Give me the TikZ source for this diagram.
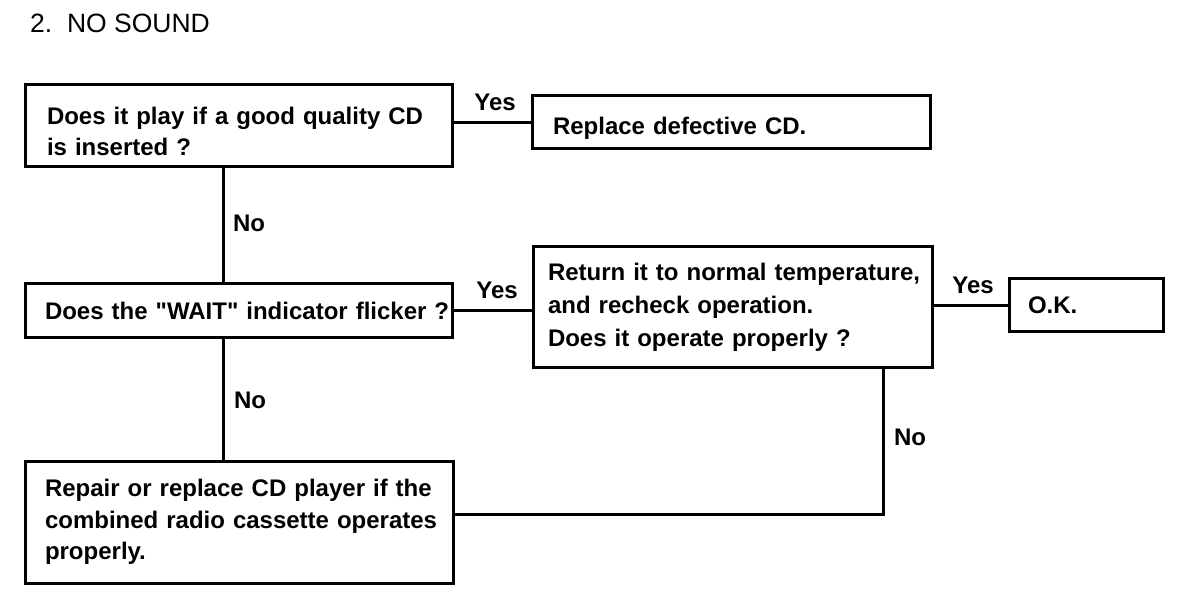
\documentclass[tikz,border=0pt]{standalone}
\usepackage{fontspec}
\setmainfont{Liberation Sans}[Ligatures=TeXOff]
\begin{document}
\begin{tikzpicture}[x=1pt,y=-1pt,
  box/.style={draw, line width=3pt, inner ysep=0pt, align=left,
    font=\bfseries\fontsize{24}{31.5}\selectfont},
  lower/.style={execute at begin node={\rule{0pt}{28pt}}},
  conn/.style={line width=3pt},
  lbl/.style={font=\bfseries\fontsize{24}{30}\selectfont, inner sep=0pt}]
\useasboundingbox (0,0) rectangle (1200,596);
\node[anchor=base west, inner sep=0pt, font=\fontsize{26.5}{30}\selectfont] (title) at (30,33) {2.\ \ NO SOUND};
\node[box, lower, minimum width=427pt, minimum height=82pt, text width=383pt, inner xsep=22pt] (b1) at (238.5,126)
  {\mbox{Does it play if a good quality CD}\\\mbox{is inserted ?}};
\node[box, lower, minimum width=398pt, minimum height=53pt, text width=356pt, inner xsep=21pt] (b2) at (731,122.5)
  {\mbox{Replace defective CD.}};
\node[box, minimum width=427pt, minimum height=53pt, text width=387pt, inner xsep=20pt] (b3) at (238.5,310.5)
  {\mbox{Does the "WAIT" indicator flicker ?}};
\node[box, font=\bfseries\fontsize{24}{33}\selectfont, minimum width=399pt, minimum height=120pt, text width=369pt, inner xsep=15pt] (b4) at (732.5,307)
  {\mbox{Return it to normal temperature,}\\\mbox{and recheck operation.}\\\mbox{Does it operate properly ?}};
\node[box, minimum width=154pt, minimum height=52pt, text width=116pt, inner xsep=19pt] (b5) at (1086,305)
  {\mbox{O.K.}};
\node[box, minimum width=428pt, minimum height=122pt, text width=388pt, inner xsep=20pt] (b6) at (239,522)
  {\mbox{Repair or replace CD player if the}\\\mbox{combined radio cassette operates}\\\mbox{properly.}};
\coordinate (trunk) at (223,0);
\coordinate (c) at (883,514);
\draw[conn] (b2.west -| b1.east) -- (b2.west);
\draw[conn] (trunk |- b1.south) -- (trunk |- b3.north);
\draw[conn] (b3.east) -- (b3.east -| b4.west);
\draw[conn] (b5.west -| b4.east) -- (b5.west);
\draw[conn] (trunk |- b3.south) -- (trunk |- b6.north);
\draw[conn] (c |- b4.south) -- (c) -- (c -| b6.east);
\node[lbl] (y1) at (495,102) {Yes};
\node[lbl] (y2) at (497,290) {Yes};
\node[lbl] (y3) at (973,285) {Yes};
\node[lbl] (n1) at (249,223) {No};
\node[lbl] (n2) at (250,400) {No};
\node[lbl] (n3) at (910,437) {No};
\end{tikzpicture}
\end{document}
